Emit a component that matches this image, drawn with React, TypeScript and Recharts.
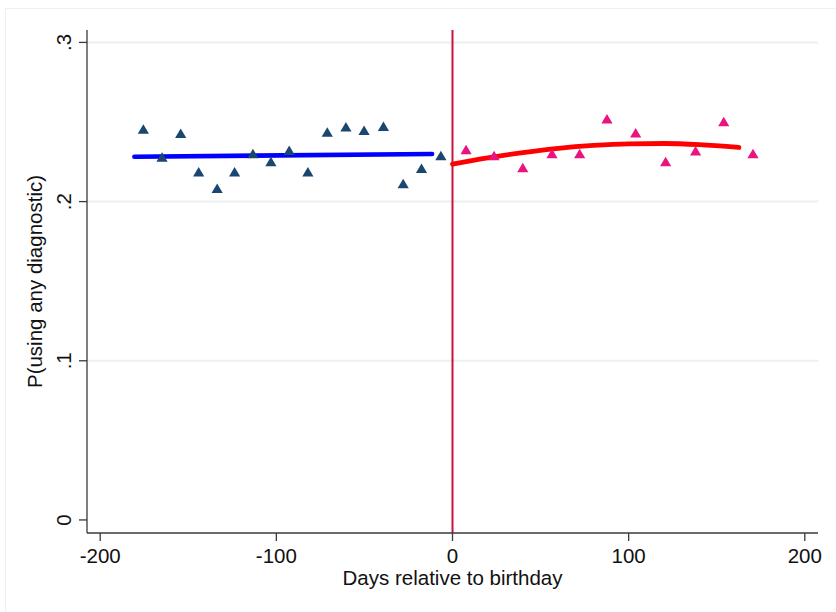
import React from 'react';
import { ComposedChart, Line, Scatter, XAxis, YAxis, ReferenceLine } from 'recharts';

// binned means, before birthday
const beforeDays = [-175.5, -164.9, -154.3, -144.1, -133.6, -123.7, -113.3, -103.1, -92.7, -82.1, -71.1, -60.5, -50.2, -39.2, -28.0, -17.6, -6.6];
const beforeShare = [0.2454, 0.2278, 0.2426, 0.2184, 0.2081, 0.2184, 0.2299, 0.2249, 0.232, 0.2184, 0.2435, 0.2467, 0.2446, 0.2471, 0.2111, 0.2207, 0.2286];

// binned means, after birthday
const afterDays = [7.7, 23.6, 39.9, 56.5, 72.2, 87.7, 104, 121, 138, 154, 170.6];
const afterShare = [0.2324, 0.2286, 0.2211, 0.2299, 0.2299, 0.2517, 0.2429, 0.2249, 0.2316, 0.25, 0.2299];

// fitted lines
const fitBeforeDays = [-180.6, -11.6];
const fitBeforeShare = [0.2282, 0.2299];
const fitAfterDays = [0, 20, 40, 60, 80, 100, 120, 140, 162.6];
const fitAfterShare = [0.2236, 0.2275, 0.2308, 0.2335, 0.2353, 0.2363, 0.2365, 0.2358, 0.234];

const xTicks = [-200, -100, 0, 100, 200];
const yTicks = [0, 0.1, 0.2, 0.3];

const zip = (xs: number[], ys: number[]) => xs.map((x, i) => ({ x, y: ys[i] }));

const FONT = '"Liberation Sans", Arial, Helvetica, sans-serif';
const AXIS = '#3a3a3a';

const fmtY = (v: number) => (v === 0 ? '0' : String(v).replace(/^0/, ''));

const Triangle = ({ cx, cy, fill }: any) => (
  <path d={`M${cx},${cy - 5.2} L${cx + 5.6},${cy + 4.3} L${cx - 5.6},${cy + 4.3} Z`} fill={fill} />
);

const XTick = ({ x, y, payload }: any) => (
  <text x={x} y={y + 20} textAnchor="middle" fontFamily={FONT} fontSize={20.5} fill="#111">
    {payload.value}
  </text>
);

const YTick = ({ x, y, payload }: any) => (
  <text
    x={x - 6}
    y={y}
    textAnchor="middle"
    transform={`rotate(-90, ${x - 6}, ${y})`}
    fontFamily={FONT}
    fontSize={20.5}
    fill="#111"
  >
    {fmtY(payload.value)}
  </text>
);

export default function App() {
  return (
    <div style={{ position: 'absolute', left: 0, top: 0, width: 836, height: 612, background: '#fff' }}>
      <div
        style={{
          position: 'absolute',
          left: 5,
          top: 8,
          width: 840,
          height: 620,
          borderLeft: '1.5px solid #edf1f3',
          borderTop: '1.5px solid #edf1f3',
        }}
      />
      <div style={{ position: 'absolute', left: 0, top: 0 }}>
        <ComposedChart width={836} height={612} margin={{ top: 30, right: 18, bottom: 0, left: 0 }}>
          {yTicks
            .filter((t) => t > 0)
            .map((t) => (
              <ReferenceLine key={t} y={t} stroke="#eaf0f3" strokeWidth={2} />
            ))}
          <XAxis
            type="number"
            dataKey="x"
            domain={[-207.5, 207.5]}
            ticks={xTicks}
            height={79}
            tickSize={8}
            stroke={AXIS}
            strokeWidth={1.3}
            tick={<XTick />}
            allowDataOverflow
            label={{
              value: 'Days relative to birthday',
              position: 'insideBottom',
              offset: 27,
              fontFamily: FONT,
              fontSize: 20.5,
              fill: '#111',
            }}
          />
          <YAxis
            type="number"
            dataKey="y"
            domain={[-0.0082, 0.3078]}
            ticks={yTicks}
            width={87}
            tickSize={8}
            stroke={AXIS}
            strokeWidth={1.3}
            tick={<YTick />}
            allowDataOverflow
            label={{
              value: 'P(using any diagnostic)',
              angle: -90,
              position: 'insideLeft',
              offset: 35,
              fontFamily: FONT,
              fontSize: 20.5,
              fill: '#111',
              style: { textAnchor: 'middle' },
            }}
          />
          <ReferenceLine x={0} stroke="#c8143c" strokeWidth={2} />
          <Scatter
            data={zip(beforeDays, beforeShare)}
            dataKey="y"
            fill="#1a476f"
            shape={(p: any) => <Triangle cx={p.cx} cy={p.cy} fill="#1a476f" />}
            isAnimationActive={false}
          />
          <Scatter
            data={zip(afterDays, afterShare)}
            dataKey="y"
            fill="#ea1380"
            shape={(p: any) => <Triangle cx={p.cx} cy={p.cy} fill="#ea1380" />}
            isAnimationActive={false}
          />
          <Line
            data={zip(fitBeforeDays, fitBeforeShare)}
            dataKey="y"
            type="linear"
            stroke="#0000ff"
            strokeWidth={4.6}
            strokeLinecap="round"
            dot={false}
            activeDot={false}
            isAnimationActive={false}
          />
          <Line
            data={zip(fitAfterDays, fitAfterShare)}
            dataKey="y"
            type="monotone"
            stroke="#ff0000"
            strokeWidth={4.8}
            strokeLinecap="round"
            dot={false}
            activeDot={false}
            isAnimationActive={false}
          />
        </ComposedChart>
      </div>
    </div>
  );
}
